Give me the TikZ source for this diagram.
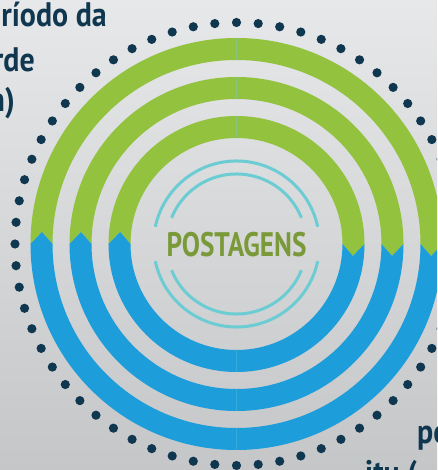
\documentclass[tikz,border=0pt]{standalone}
\usepackage{fontspec}
\setmainfont{PT Sans}[FakeStretch=0.8]
\newfontfamily\labelfont{PT Sans}[FakeStretch=0.88]
\definecolor{ringgreen}{RGB}{147,194,63}
\definecolor{ringblue}{RGB}{29,157,217}
\definecolor{hubcyan}{RGB}{108,204,212}
\definecolor{dotnavy}{RGB}{16,55,80}
\definecolor{titlegreen}{RGB}{122,154,58}
\definecolor{bgtop}{RGB}{231,232,233}
\definecolor{bgbottom}{RGB}{197,198,200}
\tikzset{
	hubline/.style={hubcyan, line width=3pt},
	seamline/.style={ringgreen!55!hubcyan, line width=0.6pt},
	labeltext/.style={text=dotnavy, font=\labelfont\bfseries\fontsize{34}{40}\selectfont, inner sep=0pt},
}
\begin{document}
\begin{tikzpicture}[x=1pt, y=1pt]
	\useasboundingbox (-236.5,-226) rectangle (200.5,244);
	\clip (-236.5,-226) rectangle (200.5,244);
	\fill[top color=bgtop, bottom color=bgbottom] (-236.5,-226) rectangle (200.5,244);
	\foreach \ri/\ro in {184/206, 145/167, 106/128} {
		\pgfmathsetmacro\m{(\ri+\ro)/2}
		\pgfmathsetmacro\d{deg(12/\m)}
		\fill[ringgreen] (180:\ro) arc[start angle=180, end angle=0, radius=\ro] -- (-\d:\m) -- (0:\ri)
			arc[start angle=0, end angle=180, radius=\ri] -- (180-\d:\m) -- cycle;
		\fill[ringblue] (0:\ro) arc[start angle=0, end angle=-180, radius=\ro] -- (180-\d:\m) -- (180:\ri)
			arc[start angle=180, end angle=360, radius=\ri] -- (-\d:\m) -- cycle;
		\draw[seamline] (90:\ri) -- (90:\ro);
		\draw[seamline, ringblue!70!hubcyan] (-90:\ri) -- (-90:\ro);
	}
	\foreach \k in {0,...,63}
		\fill[dotnavy] (90+\k*5.625:221.5) circle[radius=4.6];
	\draw[hubline] (12:83) arc[start angle=12, end angle=168, radius=83];
	\draw[hubline] (192:83) arc[start angle=192, end angle=348, radius=83];
	\draw[hubline] (22:70) arc[start angle=22, end angle=158, radius=70];
	\draw[hubline] (202:70) arc[start angle=202, end angle=338, radius=70];
	\node[anchor=base, text=titlegreen, font=\bfseries\fontsize{34}{40}\selectfont, inner sep=0pt] (hub) at (0,-12.5) {POSTAGENS};
	\node[labeltext, anchor=base east] (toplineA) at (-129.5,217) {ríodo da};
	\node[labeltext, anchor=base east] (toplineB) at (-201.5,172.3) {rde};
	\node[labeltext, anchor=base east] (toplineC) at (-221.5,132) {n)};
	\node[labeltext, anchor=base west] (botlineA) at (180.5,-199) {po};
	\node[labeltext, anchor=base west] (botlineB) at (128.5,-240) {itu (};
\end{tikzpicture}
\end{document}
